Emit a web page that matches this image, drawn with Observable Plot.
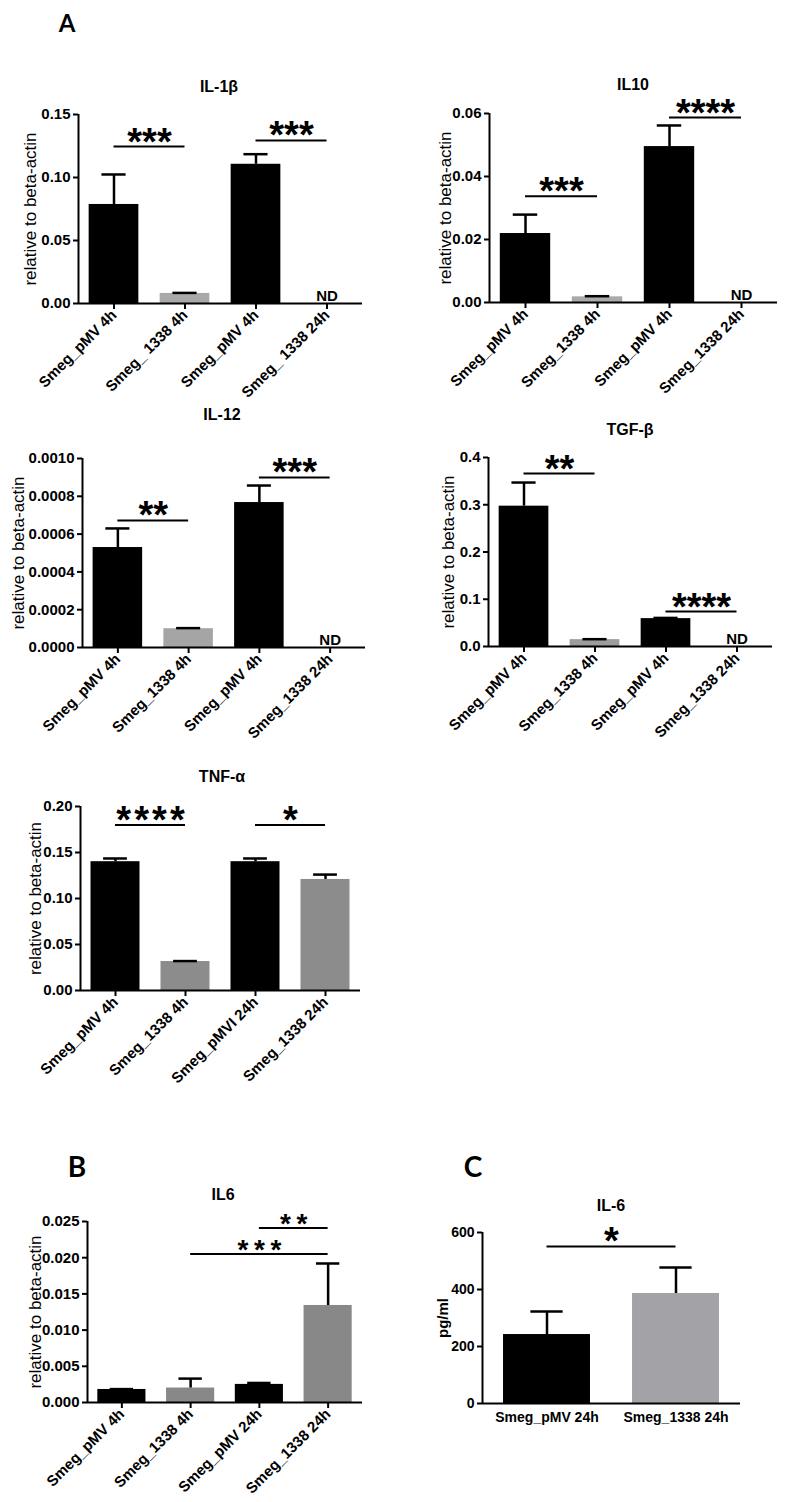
<!DOCTYPE html>
<html>
<head>
<meta charset="utf-8">
<script src="https://cdn.jsdelivr.net/npm/d3@7"></script>
<script src="https://cdn.jsdelivr.net/npm/@observablehq/plot@0.6"></script>
<style>
  body { margin: 0; background: #fff; }
  #fig { position: relative; width: 786px; height: 1502px; background: #fff; overflow: hidden;
         font-family: "Liberation Sans", Arial, Helvetica, sans-serif; color: #000; }
  .panel { position: absolute; }
  .title { position: absolute; transform: translate(-50%, -50%); white-space: nowrap;
           font-weight: bold; font-size: 16px; line-height: 20px; }
  .letter { position: absolute; transform: translate(-50%, -50%); font-family: Lato, "Open Sans", sans-serif;
            font-weight: bold; font-size: 24px; line-height: 30px; }
  .letter.big { font-size: 28px; }
  .panel svg g[aria-label^="x-axis"] line, .panel svg g[aria-label^="x-axis"] path,
  .panel svg g[aria-label^="y-axis"] line, .panel svg g[aria-label^="y-axis"] path { stroke-width: 2px; stroke: #000; }
</style>
</head>
<body>
<div id="fig"></div>
<script>
// ---------------- DATA ----------------
// Panel A: IL-1β
const il1bLabels = ["Smeg_pMV 4h", "Smeg_ 1338 4h", "Smeg_pMV 4h", "Smeg_ 1338 24h"];
const il1bMeans  = [0.0786, 0.0080, 0.1105, null];
const il1bErrors = [0.0238, 0.0004, 0.0080, null];
const il1bTicks  = [0, 0.05, 0.10, 0.15];
const il1bSigFrom = [0, 2], il1bSigTo = [1, 3], il1bSigY = [0.1246, 0.1294], il1bSigText = ["***", "***"];

// Panel A: IL10
const il10Labels = ["Smeg_pMV 4h", "Smeg_1338 4h", "Smeg_pMV 4h", "Smeg_1338 24h"];
const il10Means  = [0.0219, 0.0018, 0.0495, null];
const il10Errors = [0.0060, 0.0002, 0.0067, null];
const il10Ticks  = [0, 0.02, 0.04, 0.06];
const il10SigFrom = [0, 2], il10SigTo = [1, 3], il10SigY = [0.0337, 0.0587], il10SigText = ["***", "****"];

// Panel A: IL-12
const il12Labels = ["Smeg_pMV 4h", "Smeg_1338 4h", "Smeg_pMV 4h", "Smeg_1338 24h"];
const il12Means  = [0.000529, 0.0000995, 0.000767, null];
const il12Errors = [0.000101, 0.000003, 0.000090, null];
const il12Ticks  = [0, 0.0002, 0.0004, 0.0006, 0.0008, 0.0010];
const il12SigFrom = [0, 2], il12SigTo = [1, 3], il12SigY = [0.000672, 0.000900], il12SigText = ["**", "***"];

// Panel A: TGF-β
const tgfbLabels = ["Smeg_pMV 4h", "Smeg_1338 4h", "Smeg_pMV 4h", "Smeg_1338 24h"];
const tgfbMeans  = [0.297, 0.0145, 0.059, null];
const tgfbErrors = [0.050, 0.0010, 0.0015, null];
const tgfbTicks  = [0, 0.1, 0.2, 0.3, 0.4];
const tgfbSigFrom = [0, 2], tgfbSigTo = [1, 3], tgfbSigY = [0.366, 0.074], tgfbSigText = ["**", "****"];

// Panel A: TNF-α
const tnfLabels = ["Smeg_pMV 4h", "Smeg_1338 4h", "Smeg_pMVI 24h", "Smeg_1338 24h"];
const tnfMeans  = [0.140, 0.0315, 0.140, 0.1207];
const tnfErrors = [0.0035, 0.0005, 0.0035, 0.0053];
const tnfTicks  = [0, 0.05, 0.10, 0.15, 0.20];
const tnfSigFrom = [0, 2], tnfSigTo = [1, 3], tnfSigY = [0.180, 0.180], tnfSigText = ["*\u200a*\u200a*\u200a*", "*"];

// Panel B: IL6
const il6Labels = ["Smeg_pMV 4h", "Smeg_1338 4h", "Smeg_pMV 24h", "Smeg_1338 24h"];
const il6Means  = [0.0018, 0.0020, 0.0025, 0.0134];
const il6Errors = [0.00005, 0.0013, 0.0002, 0.0058];
const il6Ticks  = [0, 0.005, 0.010, 0.015, 0.020, 0.025];
const il6SigFrom = [2, 1], il6SigTo = [3, 3], il6SigY = [0.0241, 0.0205], il6SigText = ["*\u2009*", "*\u2009*\u2009*"];

// Panel C: IL-6 (pg/ml)
const elisaLabels = ["Smeg_pMV 24h", "Smeg_1338 24h"];
const elisaMeans  = [242, 386];
const elisaErrors = [81, 91];
const elisaTicks  = [0, 200, 400, 600];
const elisaSigFrom = [0], elisaSigTo = [1], elisaSigY = [551], elisaSigText = ["*"];

// ---------------- LAYOUT / STYLE ----------------
const FONT = '"Liberation Sans", Arial, Helvetica, sans-serif';
const fig = document.getElementById("fig");

function addPanel(data, lay) {
  const n = data.labels.length;
  const rows = data.labels.map((label, i) => ({
    i, label, mean: data.means[i], err: data.errors[i],
    group: label.includes("1338") ? "1338" : "pMV"
  }));
  const bars = rows.filter(d => d.mean != null);
  const nd = rows.filter(d => d.mean == null);
  const sig = data.sigFrom.map((f, k) => ({from: f, to: data.sigTo[k], y: data.sigY[k], text: data.sigText[k]}));
  const yMax = data.ticks[data.ticks.length - 1];
  const bh = lay.barHalf, ch = lay.capHalf;

  const plot = Plot.plot({
    width: lay.width, height: lay.height,
    marginLeft: lay.ml, marginRight: lay.mr, marginTop: lay.mt, marginBottom: lay.mb,
    style: {fontFamily: FONT, fontSize: lay.tickSize + "px", fontWeight: "bold", color: "#000", background: "transparent", overflow: "visible"},
    x: {domain: [-0.5, n - 0.5], ticks: d3.range(n), tickFormat: i => data.labels[i],
        tickRotate: lay.rotate ? -45 : 0, tickSize: lay.rotate ? 6 : 0, tickPadding: lay.rotate ? 3 : 9, label: null},
    y: {domain: [0, yMax], ticks: data.ticks, tickFormat: d3.format(lay.yFormat), tickSize: 5, tickPadding: 3, label: null},
    color: {domain: ["pMV", "1338"], range: ["#000000", lay.gray]},
    marks: [
      Plot.rectY(bars, {x1: d => d.i - bh, x2: d => d.i + bh, y: "mean", fill: "group"}),
      Plot.ruleX(bars.filter(d => d.err > 0), {x: "i", y1: "mean", y2: d => d.mean + d.err, stroke: "#000", strokeWidth: 2.5}),
      Plot.ruleY(bars.filter(d => d.err > 0), {x1: d => d.i - ch, x2: d => d.i + ch, y: d => d.mean + d.err, stroke: "#000", strokeWidth: 2.5}),
      Plot.ruleX([-0.5], {y1: 0, y2: yMax, stroke: "#000", strokeWidth: 2}),
      Plot.ruleY([0], {x1: -0.5, x2: n - 0.5, stroke: "#000", strokeWidth: 2}),
      Plot.ruleY(sig, {x1: "from", x2: "to", y: "y", stroke: "#000", strokeWidth: 2}),
      Plot.text(sig, {x: d => (d.from + d.to) / 2, y: "y", text: "text", fontSize: lay.starSize, fontWeight: "bold",
                      fontFamily: FONT, lineAnchor: "bottom", dy: lay.starDy, fill: "#000"}),
      Plot.text(nd, {x: "i", y: 0, text: () => "ND", fontSize: 15, fontWeight: "bold", fontFamily: FONT,
                     lineAnchor: "bottom", dy: -3, fill: "#000"}),
      Plot.text([lay.yLabel], {frameAnchor: "left", textAnchor: "middle", lineAnchor: "middle", text: d => d, rotate: -90,
                               dx: lay.yLabelDx, fontSize: lay.yLabelSize, fontWeight: lay.yLabelWeight, fontFamily: FONT, fill: "#000"})
    ]
  });
  const div = document.createElement("div");
  div.className = "panel";
  div.style.left = lay.left + "px";
  div.style.top = lay.top + "px";
  div.style.width = lay.width + "px";
  div.style.height = lay.height + "px";
  div.appendChild(plot);
  fig.appendChild(div);
}

function addText(cls, text, x, y) {
  const d = document.createElement("div");
  d.className = cls;
  d.textContent = text;
  d.style.left = x + "px";
  d.style.top = y + "px";
  fig.appendChild(d);
}

const base4 = {width: 380, height: 300, rotate: true, barHalf: 0.35, capHalf: 0.17, starSize: 38, starDy: 8, tickSize: 15,
               yLabel: "relative to beta-actin", yLabelSize: 17, yLabelWeight: "normal"};

addPanel({labels: il1bLabels, means: il1bMeans, errors: il1bErrors, ticks: il1bTicks,
          sigFrom: il1bSigFrom, sigTo: il1bSigTo, sigY: il1bSigY, sigText: il1bSigText},
  {...base4, left: 0, top: 100, ml: 78, mr: 18, mt: 14, mb: 97, yFormat: ".2f", yLabelDx: -48, gray: "#a9a9a9"});

addPanel({labels: il10Labels, means: il10Means, errors: il10Errors, ticks: il10Ticks,
          sigFrom: il10SigFrom, sigTo: il10SigTo, sigY: il10SigY, sigText: il10SigText},
  {...base4, left: 400, top: 100, width: 386, ml: 89, mr: 9, mt: 13, mb: 98, yFormat: ".2f", yLabelDx: -44, gray: "#aaaaaa"});

addPanel({labels: il12Labels, means: il12Means, errors: il12Errors, ticks: il12Ticks,
          sigFrom: il12SigFrom, sigTo: il12SigTo, sigY: il12SigY, sigText: il12SigText},
  {...base4, left: 0, top: 440, ml: 82, mr: 15, mt: 18, mb: 93, yFormat: ".4f", yLabelDx: -64, gray: "#a5a5a5"});

addPanel({labels: tgfbLabels, means: tgfbMeans, errors: tgfbErrors, ticks: tgfbTicks,
          sigFrom: tgfbSigFrom, sigTo: tgfbSigTo, sigY: tgfbSigY, sigText: tgfbSigText},
  {...base4, left: 400, top: 440, width: 386, ml: 88, mr: 14, mt: 17, mb: 94, yFormat: ".1f", yLabelDx: -40, gray: "#9c9c9c"});

addPanel({labels: tnfLabels, means: tnfMeans, errors: tnfErrors, ticks: tnfTicks,
          sigFrom: tnfSigFrom, sigTo: tnfSigTo, sigY: tnfSigY, sigText: tnfSigText},
  {...base4, left: 0, top: 790, ml: 80, mr: 20, mt: 16, mb: 100, yFormat: ".2f", yLabelDx: -45, gray: "#8c8c8c"});

addPanel({labels: il6Labels, means: il6Means, errors: il6Errors, ticks: il6Ticks,
          sigFrom: il6SigFrom, sigTo: il6SigTo, sigY: il6SigY, sigText: il6SigText},
  {...base4, left: 0, top: 1205, height: 297, ml: 87, mr: 18, mt: 16, mb: 100, yFormat: ".3f", yLabelDx: -52, gray: "#888888", starSize: 28, starDy: 5});

addPanel({labels: elisaLabels, means: elisaMeans, errors: elisaErrors, ticks: elisaTicks,
          sigFrom: elisaSigFrom, sigTo: elisaSigTo, sigY: elisaSigY, sigText: elisaSigText},
  {...base4, left: 400, top: 1215, width: 386, height: 240, ml: 82, mr: 46, mt: 17, mb: 52, rotate: false, tickSize: 14,
   barHalf: 0.337, capHalf: 0.125, yFormat: "d", yLabel: "pg/ml", yLabelSize: 15, yLabelWeight: "bold", yLabelDx: -39, gray: "#a3a3a7"});

// Titles and panel letters
addText("title", "IL-1β", 219, 87);
addText("title", "IL10", 633, 85);
addText("title", "IL-12", 222, 415);
addText("title", "TGF-β", 630, 430);
addText("title", "TNF-α", 222, 777);
addText("title", "IL6", 223, 1195);
addText("title", "IL-6", 611, 1206);
addText("letter", "A", 67, 23);
addText("letter big", "B", 77, 1166);
addText("letter big", "C", 473, 1166);
</script>
</body>
</html>
